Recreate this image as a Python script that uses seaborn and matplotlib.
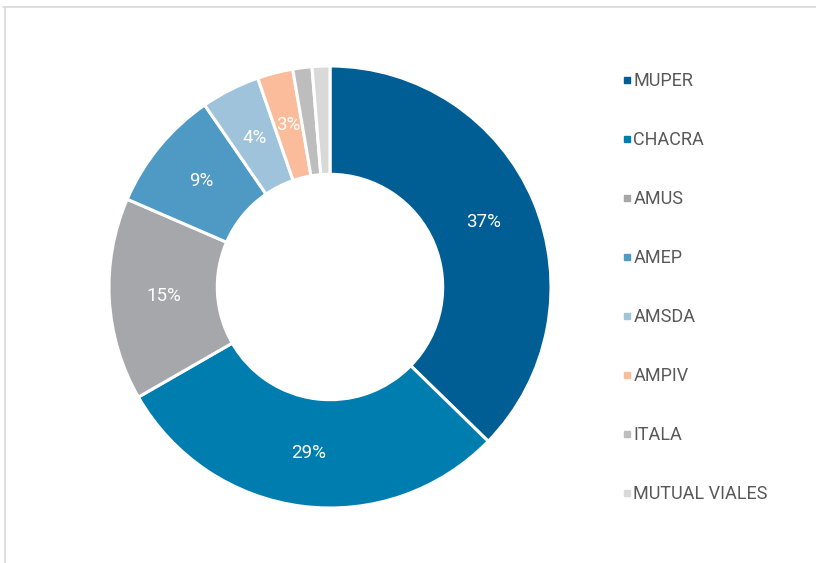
import matplotlib
matplotlib.use("Agg")
import matplotlib.pyplot as plt
from matplotlib.lines import Line2D
import numpy as np
import seaborn as sns

# data (shares in %)
categories = ["MUPER", "CHACRA", "AMUS", "AMEP", "AMSDA", "AMPIV", "ITALA", "MUTUAL VIALES"]
shares = [37.3, 29.4, 14.8, 8.9, 4.3, 2.6, 1.4, 1.3]
show_label = [True, True, True, True, True, True, False, False]

colors = ["#005E95", "#007DAF", "#A6A7AB", "#4E9AC5", "#A0C3DC", "#FBBC9C", "#BDBDBD", "#D9D9D9"]

sns.set_theme(style="white")
plt.rcParams["font.family"] = ["Roboto", "DejaVu Sans"]

fig = plt.figure(figsize=(8.16, 5.63), dpi=100)

# outer frame lines (top and left) like the source screenshot
fig.add_artist(Line2D([3 / 816, 1], [1 - 7 / 563, 1 - 7 / 563], color="#D9D9D9", lw=1.2))
fig.add_artist(Line2D([5 / 816, 5 / 816], [0, 1 - 7 / 563], color="#D9D9D9", lw=1.2))

# donut axes: centre (330, 287) px, radius ~221 px
ax = fig.add_axes([109 / 816, 55 / 563, 442 / 816, 442 / 563])
wedges, _ = ax.pie(shares, colors=colors, startangle=90, counterclock=False,
                   radius=1.0, wedgeprops=dict(width=0.49, edgecolor="white", linewidth=2.2))
for w in wedges:
    w.set_clip_on(False)
ax.set_xlim(-1.0, 1.0)
ax.set_ylim(-1.0, 1.0)
ax.set_aspect("equal")
ax.axis("off")

# percentage labels at the middle of the ring
r_lab = 0.755
for w, val, show in zip(wedges, shares, show_label):
    mid = (w.theta1 + w.theta2) / 2
    if show:
        ax.text(r_lab * np.cos(np.radians(mid)), r_lab * np.sin(np.radians(mid)),
                f"{val:.0f}%", ha="center", va="center", color="white", fontsize=13.5)

# legend on the right
handles = [Line2D([0], [0], marker="s", linestyle="none", markersize=4.5,
                  markerfacecolor=c, markeredgecolor=c) for c in colors]
leg = fig.legend(handles, categories, loc="upper left",
                 bbox_to_anchor=(615 / 816, 1 - 65 / 563), frameon=False,
                 fontsize=13, labelspacing=2.27,
                 handlelength=0.5, handletextpad=0.12, borderaxespad=0)
for t in leg.get_texts():
    t.set_color("#595959")

fig.savefig("out.png", dpi=100)
